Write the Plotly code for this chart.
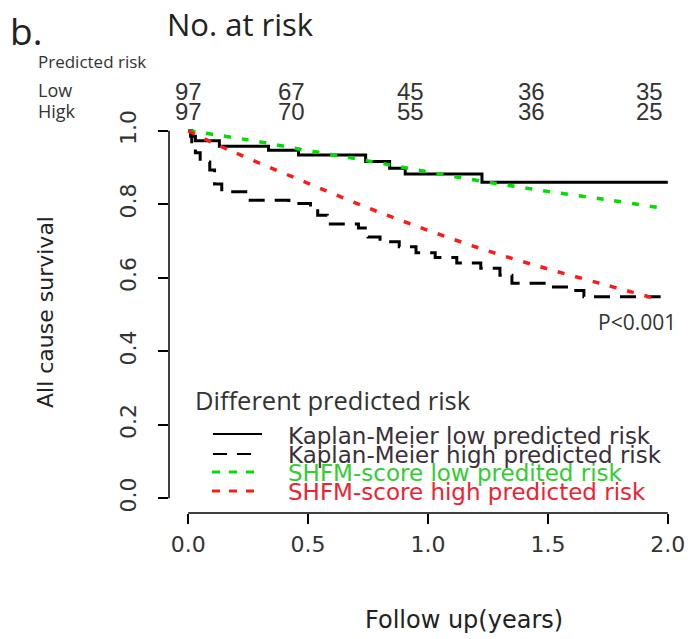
import plotly.graph_objects as go

# ---------------- data ----------------
km_low_t = [0, 0.01, 0.03, 0.13, 0.335, 0.46, 0.74, 0.84, 0.905, 1.225, 2.0]
km_low_s = [1.0, 0.985, 0.973, 0.958, 0.947, 0.934, 0.916, 0.898, 0.882, 0.86, 0.86]

km_high_t = [0, 0.015, 0.03, 0.05, 0.09, 0.11, 0.14, 0.24, 0.42, 0.51, 0.54, 0.58, 0.71,
             0.75, 0.80, 0.88, 0.95, 1.03, 1.12, 1.22, 1.30, 1.35, 1.50, 1.60, 1.65, 1.97]
km_high_s = [1.0, 0.97, 0.94, 0.915, 0.893, 0.855, 0.834, 0.811, 0.802, 0.789, 0.77, 0.746, 0.735,
             0.711, 0.698, 0.684, 0.668, 0.655, 0.64, 0.626, 0.607, 0.585, 0.575, 0.565, 0.548, 0.548]

shfm_low_t = [0, 0.25, 0.5, 0.75, 1.0, 1.25, 1.5, 1.75, 1.97]
shfm_low_s = [1.0, 0.975, 0.946, 0.918, 0.888, 0.86, 0.835, 0.812, 0.79]

shfm_high_t = [0, 0.1, 0.25, 0.5, 0.75, 1.0, 1.25, 1.5, 1.75, 1.95]
shfm_high_s = [1.0, 0.968, 0.925, 0.857, 0.79, 0.729, 0.673, 0.624, 0.579, 0.543]

risk_times = [0, 0.43, 0.925, 1.43, 1.925]
risk_low = [97, 67, 45, 36, 35]
risk_high = [97, 70, 55, 36, 25]

x_ticks = [0.0, 0.5, 1.0, 1.5, 2.0]
y_ticks = [0.0, 0.2, 0.4, 0.6, 0.8, 1.0]

legend_labels = ["Kaplan-Meier low predicted risk", "Kaplan-Meier high predicted risk",
                 "SHFM-score low predited risk", "SHFM-score high predicted risk"]

# ---------------- styling / layout helpers ----------------
W_PX, H_PX = 692, 639
L, R, T, B = 169, 687, 116, 513


def px(x):
    return (x - L) / (R - L)


def py(y):
    return (B - y) / (B - T)


GREEN = "#00dd00"
RED = "#ff1a1a"
KM_TXT = "#3b2f3b"

fig = go.Figure()
fig.add_trace(go.Scatter(x=km_low_t, y=km_low_s, mode="lines", line_shape="hv",
                         line=dict(color="black", width=3), showlegend=False))
fig.add_trace(go.Scatter(x=km_high_t, y=km_high_s, mode="lines", line_shape="hv",
                         line=dict(color="black", width=3, dash="16px,10px"), showlegend=False))
fig.add_trace(go.Scatter(x=shfm_low_t, y=shfm_low_s, mode="lines", line_shape="spline",
                         line=dict(color=GREEN, width=3.5, dash="7px,11px"), showlegend=False))
fig.add_trace(go.Scatter(x=shfm_high_t, y=shfm_high_s, mode="lines", line_shape="spline",
                         line=dict(color=RED, width=3.5, dash="7px,11px"), showlegend=False))

shapes = [
    # R-style axis lines spanning first to last tick
    dict(type="line", xref="x", yref="paper", x0=x_ticks[0], x1=x_ticks[-1], y0=0, y1=0,
         line=dict(color="black", width=1.5)),
    dict(type="line", xref="paper", yref="y", x0=0, x1=0, y0=y_ticks[0], y1=y_ticks[-1],
         line=dict(color="black", width=1.5)),
    # legend samples
    dict(type="line", xref="paper", yref="paper", x0=px(213), x1=px(262), y0=py(434), y1=py(434),
         line=dict(color="black", width=2)),
    dict(type="line", xref="paper", yref="paper", x0=px(213), x1=px(252), y0=py(454), y1=py(454),
         line=dict(color="black", width=2, dash="14px,10px")),
    dict(type="line", xref="paper", yref="paper", x0=px(212), x1=px(254), y0=py(472), y1=py(472),
         line=dict(color=GREEN, width=3, dash="8px,9px")),
    dict(type="line", xref="paper", yref="paper", x0=px(212), x1=px(254), y0=py(491), y1=py(491),
         line=dict(color=RED, width=3, dash="8px,9px")),
]

ann = []


def text(s, x, y, size, family="Open Sans", color="#222", xanchor="left", xref="paper", angle=0):
    ann.append(dict(text=s, x=x if xref != "paper" else px(x), y=py(y), xref=xref, yref="paper",
                    xanchor=xanchor, yanchor="middle", showarrow=False, textangle=angle,
                    font=dict(family=family, size=size, color=color)))


text("b.", 8, 30, 37)
text("No. at risk", 165, 24, 31)
text("Predicted risk", 36, 62, 17, color="#333")
text("Low", 36, 90, 18, color="#333")
text("Higk", 36, 111, 18, color="#333")
for t, lo, hi in zip(risk_times, risk_low, risk_high):
    text(str(lo), t, 91, 24, family="Liberation Sans", color="#333", xanchor="center", xref="x")
    text(str(hi), t, 111, 24, family="Liberation Sans", color="#333", xanchor="center", xref="x")

text("P<0.001", 637, 322, 21, color="#333", xanchor="center")
text("Different predicted risk", 193, 400, 25.5, color="#333")
legend_colors = [KM_TXT, KM_TXT, "#33cc33", "#ee2233"]
legend_y = [436, 455, 473, 492]
for lab, c, yy in zip(legend_labels, legend_colors, legend_y):
    text(lab, 286, yy, 23, family="DejaVu Sans", color=c)

text("Follow up(years)", 464, 620, 24, family="DejaVu Sans", color="#222", xanchor="center")
text("All cause survival", 45, 312, 22, family="DejaVu Sans", color="#222", xanchor="center", angle=-90)

fig.update_layout(
    width=W_PX, height=H_PX,
    margin=dict(l=L, r=W_PX - R, t=T, b=H_PX - B, pad=0),
    paper_bgcolor="white", plot_bgcolor="white",
    shapes=shapes, annotations=ann, showlegend=False,
    xaxis=dict(range=[-0.08, 2.08], tickvals=x_ticks, ticktext=["0.0", "0.5", "1.0", "1.5", "2.0"],
               showgrid=False, zeroline=False, showline=False, ticks="outside", ticklen=10,
               tickwidth=1.5, tickcolor="black", ticklabelstandoff=2,
               tickfont=dict(family="DejaVu Sans", size=22, color="#333")),
    yaxis=dict(range=[-0.04, 1.04], tickvals=y_ticks, ticktext=["0.0", "0.2", "0.4", "0.6", "0.8", "1.0"],
               showgrid=False, zeroline=False, showline=False, ticks="outside", ticklen=10,
               tickwidth=1.5, tickcolor="black", tickangle=-90, ticklabelstandoff=13,
               tickfont=dict(family="DejaVu Sans", size=22, color="#333")),
)

fig.write_html("out.html")
